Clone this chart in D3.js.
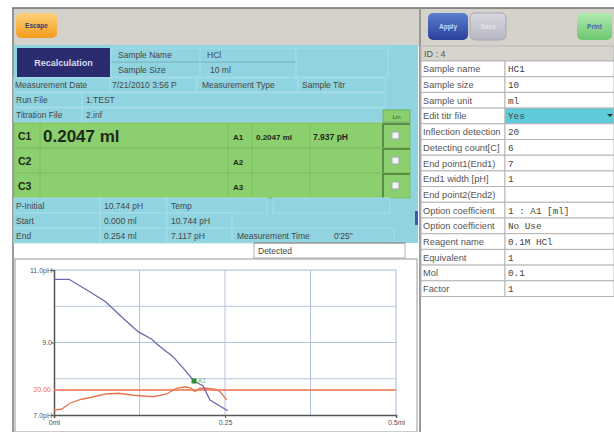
<!DOCTYPE html>
<html><head><meta charset="utf-8">
<script src="https://cdn.jsdelivr.net/npm/d3@7"></script>
<style>
html,body{margin:0;padding:0;background:#fff;}
svg{display:block;font-family:"Liberation Sans",Arial,sans-serif;}
</style></head>
<body><svg id="c" width="614" height="432"></svg>
<script>
// ---- data ----
const volume = [0, 0.022, 0.048, 0.075, 0.101, 0.123, 0.143, 0.152, 0.174, 0.1915, 0.2047, 0.218, 0.228, 0.254];
const pH     = [10.744, 10.744, 10.45, 10.13, 9.67, 9.30, 9.09, 8.93, 8.61, 8.24, 7.937, 7.80, 7.41, 7.117];
const derivVolume = [0, 0.011, 0.023, 0.040, 0.055, 0.075, 0.094, 0.116, 0.145, 0.165, 0.179, 0.192, 0.201, 0.206, 0.213, 0.223, 0.235, 0.243, 0.2525];
const derivValue  = [4.0, 4.6, 9.4, 12.6, 14.2, 16.8, 17.4, 15.8, 14.6, 16.8, 21.4, 22.6, 21.4, 18.6, 21.4, 21.4, 20.6, 18.6, 12.0];
const threshold = 20.00;
const endPointVolume = [0.2047];
const endPointPH = [7.937];
const endPointLabel = ["A1"];
const xTicks = [0, 0.25, 0.5];
const xTickLabels = ["0ml", "0.25", "0.5ml"];
const xGrid = [0.125, 0.25, 0.375];
const yTicks = [7, 9, 11];
const yTickLabels = ["7.0pH", "9.0", "11.0pH"];
const yGrid = [8, 9, 10];
const paramLabels = ["Sample name","Sample size","Sample unit","Edit titr file","Inflection detection","Detecting count[C]","End point1(End1)","End1 width [pH]","End point2(End2)","Option coefficient","Option coefficient","Reagent name","Equivalent","Mol","Factor"];
const paramValues = ["HC1","10","ml","Yes","20","6","7","1","","1 : A1 [ml]","No Use","0.1M HCl","1","0.1","1"];
const resultLabels = ["C1","C2","C3"];
const resultValues = ["0.2047 ml","",""];
const autoLabels = ["A1","A2","A3"];
const autoVolumes = ["0.2047 ml","",""];
const autoPH = ["7.937 pH","",""];

const svg = d3.select("#c");
const defs = svg.append("defs");
function grad(id, c1, c2){
  const g = defs.append("linearGradient").attr("id",id).attr("x1",0).attr("y1",0).attr("x2",0).attr("y2",1);
  g.append("stop").attr("offset","0%").attr("stop-color",c1);
  g.append("stop").attr("offset","100%").attr("stop-color",c2);
}
grad("gEsc","#ffd27a","#f39a1c");
grad("gApply","#5b7fd0","#2b3f9a");
grad("gSave","#d8d8e0","#b8b8c4");
grad("gPrint","#b0eab0","#6cc870");

const txt = (x,y,s,o={}) => svg.append("text").attr("x",x).attr("y",y).text(s)
  .attr("font-size",o.size||8.5).attr("fill",o.fill||"#474747")
  .attr("font-weight",o.weight||"normal").attr("text-anchor",o.anchor||"start")
  .attr("font-family",o.family||null);
const rect = (x,y,w,h,fill,stroke,sw) => svg.append("rect").attr("x",x).attr("y",y).attr("width",w).attr("height",h)
  .attr("fill",fill||"none").attr("stroke",stroke||"none").attr("stroke-width",sw||1);

// ---- frame & toolbar ----
rect(13,8,601,424,"#ffffff");
rect(13,8,601,38,"#d5d2cb");
svg.append("line").attr("x1",12).attr("x2",614).attr("y1",8).attr("y2",8).attr("stroke","#6e6e6e").attr("stroke-width",1.5);
svg.append("line").attr("x1",13).attr("x2",13).attr("y1",8).attr("y2",432).attr("stroke","#7a7a7a").attr("stroke-width",1.5);
svg.append("line").attr("x1",420).attr("x2",420).attr("y1",8).attr("y2",432).attr("stroke","#9a9a9a").attr("stroke-width",2);

// buttons
svg.append("rect").attr("x",16).attr("y",13).attr("width",41).attr("height",25).attr("rx",5).attr("fill","url(#gEsc)");
txt(36.5,28,"Escape",{size:6.5,weight:"bold",fill:"#3a3a80",anchor:"middle"});
svg.append("rect").attr("x",428).attr("y",13).attr("width",40).attr("height",27).attr("rx",5).attr("fill","url(#gApply)");
txt(448,29,"Apply",{size:6.5,weight:"bold",fill:"#c8d8ff",anchor:"middle"});
svg.append("rect").attr("x",470).attr("y",13).attr("width",36).attr("height",27).attr("rx",5).attr("fill","url(#gSave)").attr("stroke","#a8a8b0");
txt(488,29,"Save",{size:6.5,weight:"bold",fill:"#e4e4ea",anchor:"middle"});
svg.append("rect").attr("x",577).attr("y",13).attr("width",35).attr("height",27).attr("rx",5).attr("fill","url(#gPrint)");
txt(594.5,29,"Print",{size:6.5,weight:"bold",fill:"#3a6ab0",anchor:"middle"});

// ---- left cyan panel ----
const cyan = "#8fd4e0", cyanLine = "#a8dee7";
rect(14,45,404,198,cyan);
rect(17,48,93,29,"#2b2b70");
txt(63.5,66,"Recalculation",{size:9,weight:"bold",fill:"#d8dcf0",anchor:"middle"});
rect(111,48,185,14,cyan,cyanLine); rect(111,62,185,15,cyan,cyanLine);
rect(296,48,92,29,cyan,cyanLine);
svg.append("line").attr("x1",111).attr("x2",296).attr("y1",62).attr("y2",62).attr("stroke","#6aaab8");
svg.append("line").attr("x1",200).attr("x2",200).attr("y1",48).attr("y2",77).attr("stroke",cyanLine);
txt(118,58,"Sample Name"); txt(207,58,"HCl");
txt(118,73,"Sample Size"); txt(210,73,"10 ml");
[[14,96],[110,87],[197,101],[298,87]].forEach(c=>rect(c[0],78,c[1],14,cyan,cyanLine));
txt(15,88,"Measurement Date"); txt(112,88,"7/21/2010  3:56 P"); txt(202,88,"Measurement Type"); txt(302,88,"Sample Titr");
rect(14,93,68,14,cyan,cyanLine); rect(82,93,303,14,cyan,cyanLine);
txt(16,103,"Run File"); txt(86,103,"1.TEST");
rect(14,108,68,14,cyan,cyanLine); rect(82,108,301,14,cyan,cyanLine);
txt(16,118,"Titration File"); txt(86,118,"2.inf");
rect(383,110,27,12,"#8ccf6e","#6fae56");
txt(396.5,119,"Lin",{size:6,fill:"#2f4f20",anchor:"middle"});

// green results
const green = "#8ccf6e", greenLine = "#7cc060";
resultLabels.forEach((lab,i)=>{
  const y0 = 123 + i*25;
  rect(14,y0,369,25,green,greenLine);
  rect(383,y0,27,25,green,greenLine);
  svg.append("path").attr("d",`M383,${y0+25}V${y0+1}H410`).attr("stroke","#4e7a3c").attr("stroke-width",1.5).attr("fill","none");
  rect(392,y0+9,7,7,"#f4f4f4","#9aa");
  [40,228,252,310].forEach(xx=>svg.append("line").attr("x1",xx).attr("x2",xx).attr("y1",y0).attr("y2",y0+25).attr("stroke",greenLine));
  txt(18,y0+17,lab,{size:10.5,weight:"bold",fill:"#1e2a1a"});
  txt(43,y0+19,resultValues[i],{size:17,weight:"bold",fill:"#1e2a1a"});
  txt(233,y0+17,autoLabels[i],{size:8,weight:"bold",fill:"#1e2a1a"});
  txt(256,y0+17,autoVolumes[i],{size:8,weight:"bold",fill:"#1e2a1a"});
  txt(313,y0+17,autoPH[i],{size:8.5,weight:"bold",fill:"#1e2a1a"});
});
rect(14,198,86,15,cyan,cyanLine); rect(100,198,67,15,cyan,cyanLine); rect(167,198,100,15,cyan,cyanLine); rect(273,198,117,15,cyan,cyanLine);
txt(16,209,"P-Initial"); txt(104,209,"10.744 pH"); txt(171,209,"Temp");
rect(14,213,86,15,cyan,cyanLine); rect(100,213,67,15,cyan,cyanLine); rect(167,213,65,15,cyan,cyanLine);
txt(16,224,"Start"); txt(104,224,"0.000 ml"); txt(171,224,"10.744 pH");
rect(14,228,86,15,cyan,cyanLine); rect(100,228,67,15,cyan,cyanLine); rect(167,228,65,15,cyan,cyanLine); rect(232,228,162,15,cyan,cyanLine);
txt(16,239,"End"); txt(104,239,"0.254 ml"); txt(171,239,"7.117 pH"); txt(237,239,"Measurement Time"); txt(334,239,"0'25\"");
rect(415,211,3,14,"#3a5ab0");
rect(254,243,151,15,"#ffffff","#b0b0b0");
svg.append("line").attr("x1",254).attr("x2",405).attr("y1",243).attr("y2",243).attr("stroke","#888");
txt(258,254,"Detected",{size:8.5,fill:"#444"});
rect(15,259,402,173,"#ffffff","#9a9a9a");

// ---- chart ----
const x = d3.scaleLinear().domain([0,0.5]).range([54,396]);
const y = d3.scaleLinear().domain([7,11]).range([415,270]);
const yd = d3.scaleLinear().domain([0,116]).range([415,270]);
const g = svg.append("g");
g.selectAll(".vg").data(xGrid).join("line").attr("x1",d=>x(d)).attr("x2",d=>x(d)).attr("y1",y(11)).attr("y2",y(7)).attr("stroke","#b4c4de");
g.selectAll(".hg").data(yGrid).join("line").attr("x1",x(0)).attr("x2",x(0.5)).attr("y1",d=>y(d)).attr("y2",d=>y(d)).attr("stroke","#b4c4de");
g.append("line").attr("x1",x(0)).attr("x2",x(0.5)).attr("y1",y(11)).attr("y2",y(11)).attr("stroke","#a6bce2");
g.append("line").attr("x1",x(0.5)).attr("x2",x(0.5)).attr("y1",y(11)).attr("y2",y(7)).attr("stroke","#a6bce2");

const xAxis = d3.axisBottom(x).tickValues(xTicks).tickSize(3).tickFormat((d,i)=>xTickLabels[i]);
const yAxis = d3.axisLeft(y).tickValues(yTicks).tickSize(3).tickFormat((d,i)=>yTickLabels[i]);
const ax = g.append("g").attr("transform",`translate(0,${y(7)})`).call(xAxis);
const ay = g.append("g").attr("transform",`translate(${x(0)},0)`).call(yAxis);
[ax,ay].forEach(a=>{
  a.select(".domain").attr("stroke","#555").attr("stroke-width",1.5);
  a.selectAll(".tick line").attr("stroke","#555");
  a.selectAll(".tick text").attr("font-size",7).attr("fill","#555").attr("font-family","Liberation Sans, Arial, sans-serif");
});
ax.selectAll(".tick text").attr("dy","0.5em");
ay.selectAll(".tick text").attr("x",-2);

g.append("line").attr("x1",x(0)).attr("x2",x(0.5)).attr("y1",yd(threshold)).attr("y2",yd(threshold)).attr("stroke","#ec7048").attr("stroke-width",1.6);
g.append("text").attr("x",x(0)-3).attr("y",yd(threshold)).attr("dy","0.35em").attr("text-anchor","end")
  .attr("font-size",7).attr("fill","#ec7048").text(threshold.toFixed(2));

const dData = derivVolume.map((v,i)=>[v,derivValue[i]]);
g.append("path").datum(dData).attr("fill","none").attr("stroke","#e9764e").attr("stroke-width",1.3)
  .attr("d",d3.line().x(d=>x(d[0])).y(d=>yd(d[1])));
const pData = volume.map((v,i)=>[v,pH[i]]);
g.append("path").datum(pData).attr("fill","none").attr("stroke","#6a68ae").attr("stroke-width",1.3)
  .attr("d",d3.line().x(d=>x(d[0])).y(d=>y(d[1])));
g.selectAll(".ep").data(endPointVolume).join("rect").attr("x",d=>x(d)-2.5).attr("y",(d,i)=>y(endPointPH[i])-2.5)
  .attr("width",5).attr("height",5).attr("fill","#2f8f3a");
g.selectAll(".epl").data(endPointVolume).join("text").attr("x",d=>x(d)+4).attr("y",(d,i)=>y(endPointPH[i])+2)
  .attr("font-size",6.5).attr("fill","#6cc46c").text((d,i)=>endPointLabel[i]);

// ---- right panel ----
rect(421,46,193,15,"#d7d4ce","#b8b8b8");
txt(424,57,"ID : 4",{size:9,fill:"#555"});
const rowH = 15.7, rowTop = 61;
const clip = defs.append("clipPath").attr("id","lc");
clip.append("rect").attr("x",421).attr("y",0).attr("width",83).attr("height",432);
paramLabels.forEach((lab,i)=>{
  const y0 = rowTop + i*rowH;
  rect(421,y0,84,rowH,"#ffffff","#b5b5b5");
  rect(505,y0,109,rowH, i===3 ? "#5fcbd8" : "#ffffff","#b5b5b5");
  svg.append("text").attr("x",423).attr("y",y0+11.3).attr("font-size",9.3).attr("fill","#555")
    .attr("clip-path","url(#lc)").text(lab);
  svg.append("text").attr("x",508).attr("y",y0+11.3).attr("font-size",9.3).attr("fill","#444")
    .attr("font-family","Liberation Mono, Courier New, monospace").text(paramValues[i]);
});
svg.append("path").attr("d",`M607,${rowTop+3*rowH+6}l3,3l3,-3z`).attr("fill","#333");
</script></body></html>
